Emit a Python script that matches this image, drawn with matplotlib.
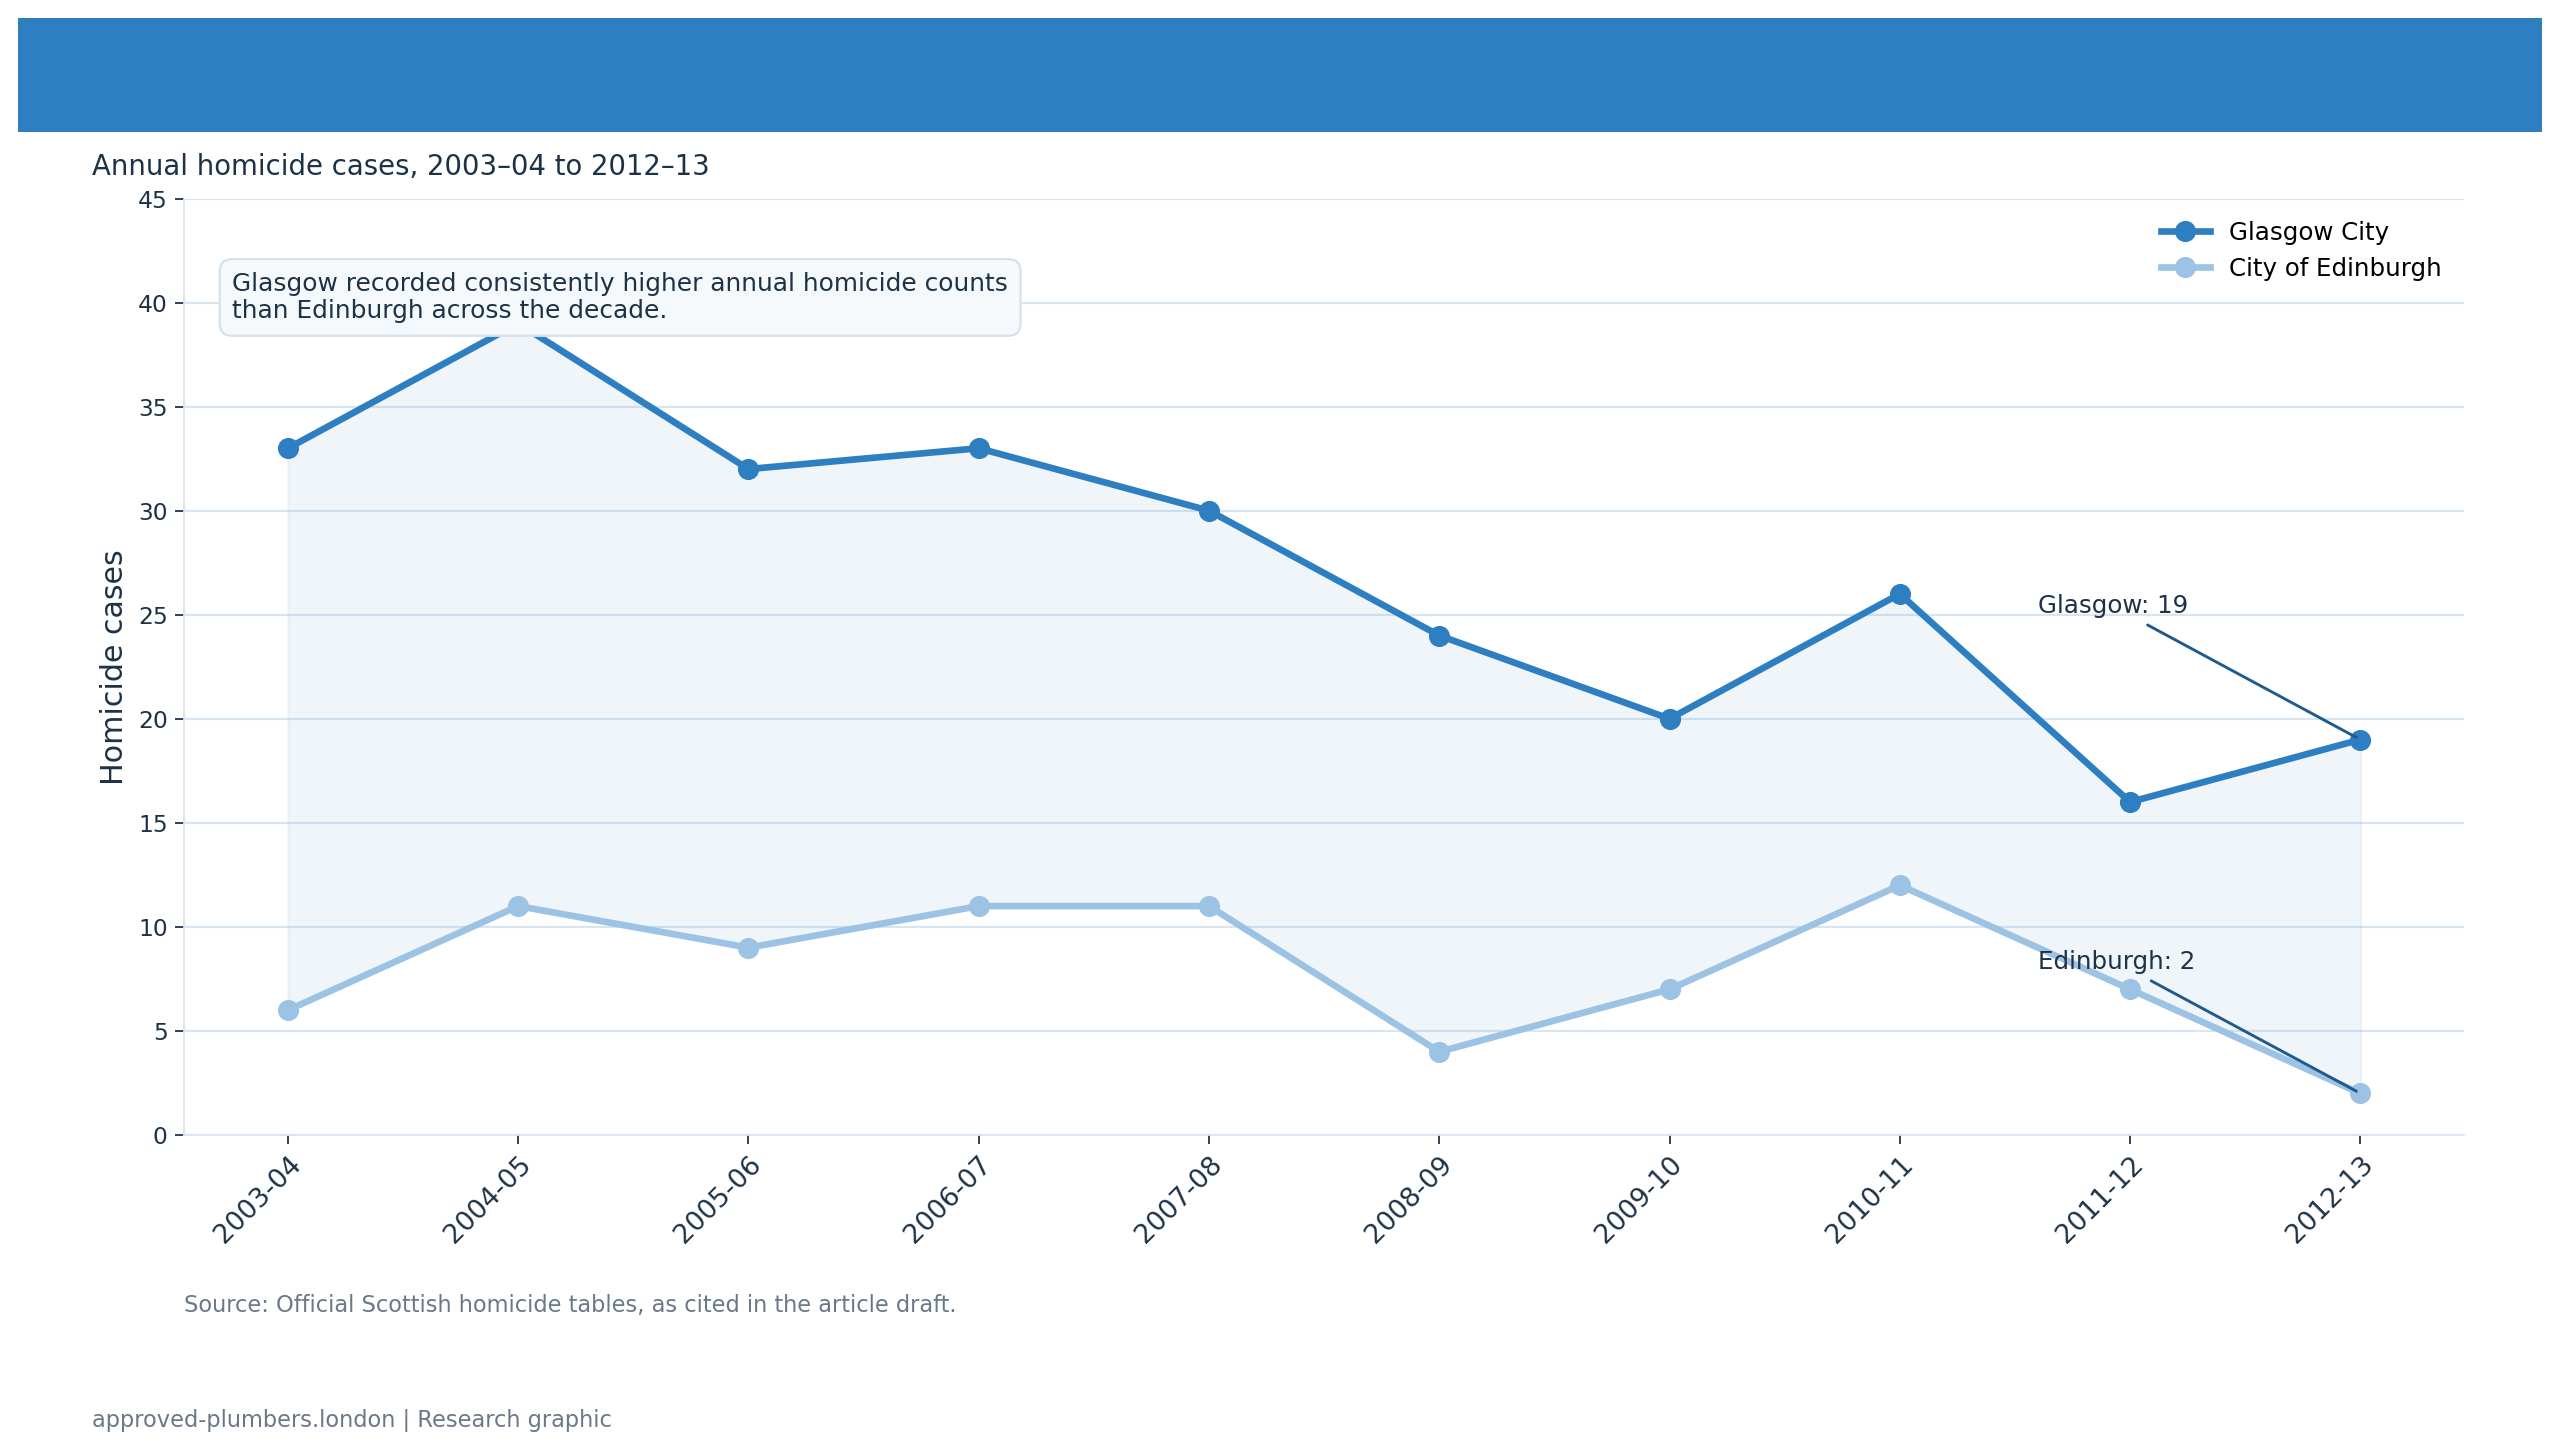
import matplotlib
matplotlib.use("Agg")
import matplotlib.pyplot as plt
from matplotlib.patches import Rectangle

# data
seasons = ["2003-04", "2004-05", "2005-06", "2006-07", "2007-08",
           "2008-09", "2009-10", "2010-11", "2011-12", "2012-13"]
glasgow = [33, 39, 32, 33, 30, 24, 20, 26, 16, 19]
edinburgh = [6, 11, 9, 11, 11, 4, 7, 12, 7, 2]

DARK = "#2E7FC1"
LIGHT = "#9CC3E4"
NAVY = "#1d3247"
GRID = "#d9e6f1"

fig = plt.figure(figsize=(16, 9.05625), dpi=160)

# header band
fig.patches.append(Rectangle((0.007, 0.909), 0.986, 0.0786, transform=fig.transFigure,
                             facecolor=DARK, edgecolor="none", zorder=0))

ax = fig.add_axes([0.072, 0.2167, 0.8905, 0.6463])
x = list(range(len(seasons)))

ax.fill_between(x, edinburgh, glasgow, color=DARK, alpha=0.07, linewidth=1)
ax.plot(x, glasgow, color=DARK, lw=3, marker="o", ms=8.5, label="Glasgow City", zorder=3)
ax.plot(x, edinburgh, color=LIGHT, lw=3, marker="o", ms=8.5, label="City of Edinburgh", zorder=3)

ax.set_ylim(0, 45)
ax.set_yticks(range(0, 46, 5))
ax.set_xticks(x)
ax.set_xticklabels(seasons, rotation=45, ha="right", rotation_mode="anchor")
ax.tick_params(colors=NAVY, labelsize=10.5, length=4)
ax.tick_params(axis="x", labelsize=12)
ax.grid(axis="y", color=GRID, lw=1)
ax.set_axisbelow(True)
for s in ["top", "right"]:
    ax.spines[s].set_visible(False)
for s in ["left", "bottom"]:
    ax.spines[s].set_color(GRID)
ax.set_ylabel("Homicide cases", fontsize=13.5, color=NAVY)

ax.legend(loc="upper right", frameon=False, fontsize=11, handlelength=2)

# callouts for last season
ax.annotate(f"Glasgow: {glasgow[-1]}", xy=(9, glasgow[-1]), xytext=(7.6, 25.4),
            fontsize=11, color=NAVY, va="center",
            arrowprops=dict(arrowstyle="-", color="#1f5a8c", lw=1.3))
ax.annotate(f"Edinburgh: {edinburgh[-1]}", xy=(9, edinburgh[-1]), xytext=(7.6, 8.3),
            fontsize=11, color=NAVY, va="center",
            arrowprops=dict(arrowstyle="-", color="#1f5a8c", lw=1.3))

ax.text(0.021, 0.922,
        "Glasgow recorded consistently higher annual homicide counts\nthan Edinburgh across the decade.",
        transform=ax.transAxes, fontsize=11.2, color=NAVY, va="top", ha="left", zorder=5,
        bbox=dict(boxstyle="round,pad=0.5", facecolor="#f5f9fc", edgecolor="#d3e2ef"))

fig.text(0.036, 0.885, "Annual homicide cases, 2003\u201304 to 2012\u201313",
         fontsize=12.4, color=NAVY, va="center")
fig.text(0.072, 0.099, "Source: Official Scottish homicide tables, as cited in the article draft.",
         fontsize=10.15, color="#6b7889", va="center")
fig.text(0.036, 0.0196, "approved-plumbers.london | Research graphic",
         fontsize=10.15, color="#6b7889", va="center")

fig.savefig("out.png", dpi=160)
